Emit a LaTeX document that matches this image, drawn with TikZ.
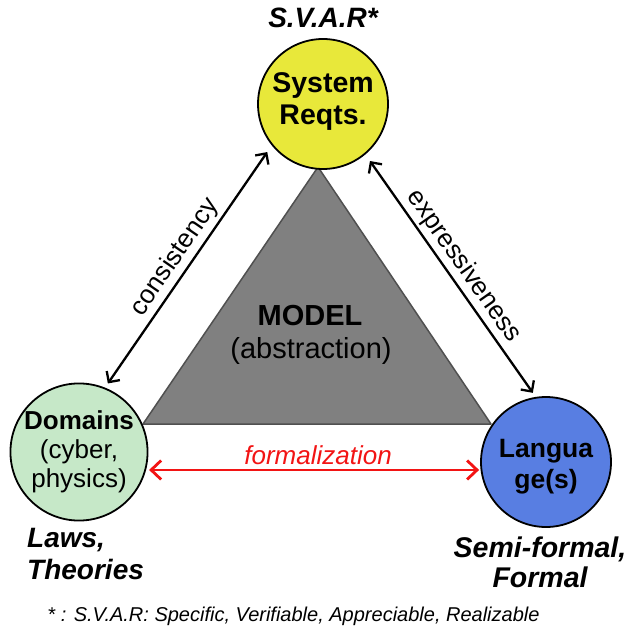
\documentclass[tikz,border=0pt]{standalone}
\usepackage{fontspec}
\setmainfont{Liberation Sans}
\usetikzlibrary{arrows.meta}

\definecolor{reqyellow}{RGB}{232,232,58}
\definecolor{domgreen}{RGB}{198,232,200}
\definecolor{langblue}{RGB}{88,126,226}
\definecolor{modelgray}{RGB}{128,128,128}
\definecolor{modeledge}{RGB}{80,80,80}
\definecolor{redline}{RGB}{242,20,20}

\begin{document}
\begin{tikzpicture}[x=1pt,y=-1pt,
  bubble/.style={circle, draw=black, line width=1.8pt, minimum size=130pt,
                 inner sep=0pt, align=center},
  link/.style={draw=black, line width=2.3pt,
               {Straight Barb[length=8pt,width=16pt]}-{Straight Barb[length=8pt,width=16pt]}},
  formal/.style={draw=redline, line width=2.8pt,
                 {Straight Barb[length=10pt,width=19pt]}-{Straight Barb[length=10pt,width=19pt]}},
  edgelabel/.style={font=\fontsize{26}{30}\selectfont, inner sep=3pt, sloped, above},
  caption/.style={font=\fontsize{28}{32}\selectfont\bfseries\itshape, inner sep=0pt},
]
\useasboundingbox (0,0) rectangle (632,636);

% the model triangle in the middle
\coordinate (apex) at (318,167);
\coordinate (bl) at (143,424);
\coordinate (br) at (491,424);
\filldraw[fill=modelgray, draw=modeledge, line width=1.5pt, line join=round]
  (apex) -- (bl) -- (br) -- cycle;
\node[anchor=base, font=\fontsize{29}{33}\selectfont\bfseries] (model) at (310,325) {MODEL};
\node[anchor=base, font=\fontsize{29}{33}\selectfont] (abs) at (311,358) {(abstraction)};

% the three corners
\node[bubble, fill=reqyellow, font=\fontsize{28.5}{32}\selectfont\bfseries, text depth=10pt] (sys) at (323,104)
  {System\\Reqts.};
\node[bubble, fill=domgreen, font=\fontsize{26}{29}\selectfont] (dom) at (79,452)
  {\textbf{Domains}\\(cyber,\\physics)};
\node[bubble, fill=langblue, font=\fontsize{26.5}{31}\selectfont\bfseries, text height=52pt, text depth=0pt] (lang) at (546,462)
  {Langua\\ge(s)};

% relations between the corners
\draw[link, shorten <=5pt, shorten >=8pt] (dom.68) -- node[edgelabel] {consistency} (sys.219);
\draw[link, shorten <=8pt, shorten >=5pt] (sys.310) -- node[edgelabel] {expressiveness} (lang.99);
\draw[formal, shorten <=3pt, shorten >=1pt] (dom.-15) --
  node[above=3pt, inner sep=1pt, text=redline, font=\fontsize{26}{30}\selectfont\itshape, xshift=5pt] (formal) {formalization}
  (dom.-15 -| lang.west);

% captions
\node[caption, anchor=base] (svar) at (323,28) {S.V.A.R*};
\node[caption, anchor=north west, align=left] (laws) at (27,528) {Laws,\\Theories};
\node[caption, anchor=north, align=center, font=\fontsize{28.5}{30}\selectfont\bfseries\itshape] (forms) at (540,537) {Semi-formal,\\Formal};

% footnote
\node[anchor=base, font=\fontsize{20}{24}\selectfont\itshape] (note) at (293.5,621)
  {* : S.V.A.R: Specific, Verifiable, Appreciable, Realizable};
\end{tikzpicture}
\end{document}
